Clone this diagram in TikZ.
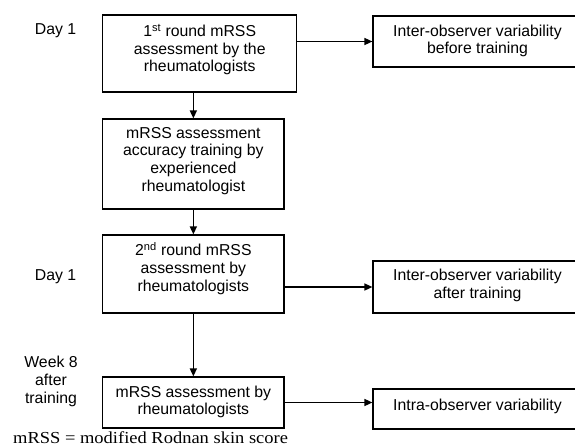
\documentclass[tikz,border=0pt]{standalone}
\usepackage{fontspec}
\setmainfont{Liberation Sans}
\newfontfamily\capfont{Liberation Serif}
\usetikzlibrary{arrows.meta}
\begin{document}
\begin{tikzpicture}[x=1pt,y=-1pt,
  boxshape/.style={draw,line width=1.2pt,inner sep=0pt},
  boxtext/.style={align=center,font=\fontsize{15.8pt}{17.8pt}\selectfont,inner sep=0pt},
  sidelabel/.style={align=center,font=\fontsize{15.8pt}{17.8pt}\selectfont,inner sep=0pt},
  captext/.style={anchor=base west,inner sep=0pt,font=\capfont\fontsize{16.8pt}{18pt}\selectfont},
  arr/.style={line width=1.5pt,-{Triangle[length=8pt,width=7pt]}}]
\fill[white] (0,0) rectangle (575,447);
\useasboundingbox (0,0) rectangle (575,447);
% boxes
\node[boxshape,minimum width=194pt,minimum height=77pt] (b1) at (199.7,53.5) {};
\node[boxshape,minimum width=181.3pt,minimum height=90pt] (b2) at (193.35,164) {};
\node[boxshape,minimum width=181.3pt,minimum height=78pt] (b3) at (193.35,274) {};
\node[boxshape,minimum width=181.3pt,minimum height=51pt] (b4) at (193.35,402.5) {};
\node[boxshape,minimum width=209pt,minimum height=51pt] (r1) at (477.5,41.5) {};
\node[boxshape,minimum width=209pt,minimum height=52pt] (r2) at (477.5,287) {};
\node[boxshape,minimum width=209pt,minimum height=40pt] (r3) at (477.5,409) {};
% texts
\node[boxtext] (b1t) at (199.7,49.5) {1\textsuperscript{st} round mRSS\\assessment by the\\rheumatologists};
\node[boxtext] (b2t) at (193.35,161) {mRSS assessment\\accuracy training by\\experienced\\rheumatologist};
\node[boxtext] (b3t) at (193.35,268.7) {2\textsuperscript{nd} round mRSS\\assessment by\\rheumatologists};
\node[boxtext] (b4t) at (193.35,402) {mRSS assessment by\\rheumatologists};
\node[boxtext] (r1t) at (477.5,41) {Inter-observer variability\\before training};
\node[boxtext] (r2t) at (477.5,285.3) {Inter-observer variability\\after training};
\node[boxtext] (r3t) at (477.5,406) {Intra-observer variability};
% side labels
\node[sidelabel] (d1) at (55.5,30.7) {Day 1};
\node[sidelabel] (d2) at (55.5,276.7) {Day 1};
\node[sidelabel] (w8) at (51,381.5) {Week 8\\after\\training};
% caption
\node[captext] (cap) at (13,443.3) {\scalebox{1.1}[1]{mRSS = modified Rodnan skin score}};
% connectors
\draw[arr] (b1.east |- r1.west) -- (r1.west);
\draw[arr] (b3.east |- r2.west) -- (r2.west);
\draw[arr] (b4.east) -- (b4.east -| r3.west);
\draw[arr] (b1.south -| b2.north) -- (b2.north);
\draw[arr] (b2.south) -- (b3.north);
\draw[arr] (b3.south) -- (b4.north);
\end{tikzpicture}
\end{document}
